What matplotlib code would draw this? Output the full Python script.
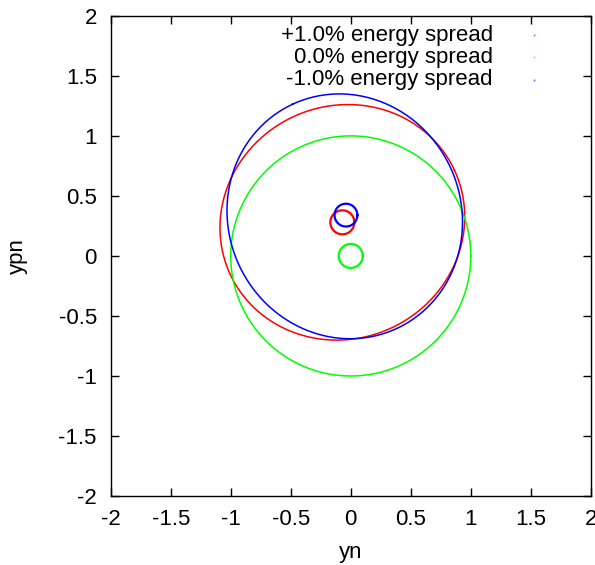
import numpy as np
import matplotlib
matplotlib.use("Agg")
import matplotlib.pyplot as plt

plt.rcParams['font.family'] = ['Liberation Sans', 'DejaVu Sans']

# normalised phase space ellipses (centre x, centre y, semi-axis a, semi-axis b, tilt in deg)
labels = ["+1.0% energy spread", "0.0% energy spread", "-1.0% energy spread"]
colors = ["#ff0000", "#00ff00", "#0000ff"]
big_cx = [-0.07, 0.0, -0.05]
big_cy = [0.28, 0.0, 0.33]
big_a = [1.03, 1.0, 1.03]
big_b = [0.97, 1.0, 0.97]
big_tilt = [25, 0, 115]
small_cx = [-0.07, 0.0, -0.04]
small_cy = [0.28, 0.0, 0.34]
small_r = [0.10, 0.10, 0.095]

xticks = [-2, -1.5, -1, -0.5, 0, 0.5, 1, 1.5, 2]
yticks = [-2, -1.5, -1, -0.5, 0, 0.5, 1, 1.5, 2]

FS = 16


def ellipse(cx, cy, a, b, tilt):
    t = np.linspace(0, 2 * np.pi, 400)
    th = np.radians(tilt)
    x = cx + a * np.cos(th) * np.cos(t) - b * np.sin(th) * np.sin(t)
    y = cy + a * np.sin(th) * np.cos(t) + b * np.cos(th) * np.sin(t)
    return x, y


fig = plt.figure(figsize=(5.95, 5.65), dpi=100)
ax = fig.add_axes([0.186, 0.122, 0.807, 0.850])

for i in range(3):
    x, y = ellipse(big_cx[i], big_cy[i], big_a[i], big_b[i], big_tilt[i])
    ax.plot(x, y, color=colors[i], lw=1.1)
    x, y = ellipse(small_cx[i], small_cy[i], small_r[i], small_r[i], 0)
    ax.plot(x, y, color=colors[i], lw=1.6)

# gnuplot style key: text right aligned, tiny dot sample on the right
key_y = [0.960, 0.914, 0.867]
for i in range(3):
    ax.text(0.796, key_y[i], labels[i], transform=ax.transAxes,
            ha='right', va='center', fontsize=FS)
    ax.plot([0.881], [key_y[i]], marker='s', ms=1.3, mew=0,
            color=colors[i], alpha=0.6, transform=ax.transAxes)

ax.set_xlim(-2, 2)
ax.set_ylim(-2, 2)
ax.set_xticks(xticks)
ax.set_yticks(yticks)
ax.set_xticklabels([f"{v:g}" for v in xticks])
ax.set_yticklabels([f"{v:g}" for v in yticks])
ax.tick_params(direction='in', top=True, right=True, length=6, width=1,
               labelsize=FS)
ax.tick_params(axis='x', pad=9)
ax.tick_params(axis='y', pad=10)
for s in ax.spines.values():
    s.set_linewidth(1.0)

ax.set_xlabel("yn", fontsize=FS, va='center')
ax.set_ylabel("ypn", fontsize=FS, va='center')
ax.xaxis.set_label_coords(0.5, -0.117)
ax.yaxis.set_label_coords(-0.195, 0.5)

fig.savefig("out.png", dpi=100)
